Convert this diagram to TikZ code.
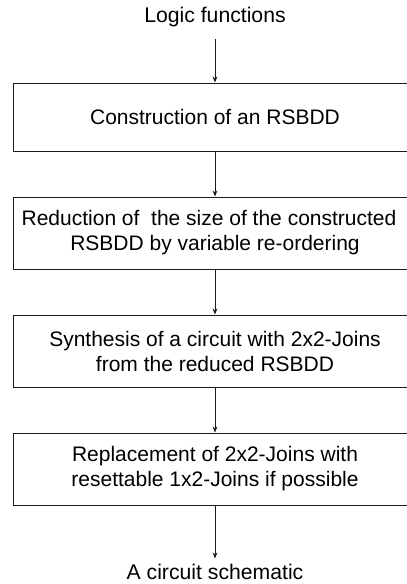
\documentclass[tikz,border=0pt]{standalone}
\usepackage{fontspec}
\setmainfont{Liberation Sans}
\usepackage{xcolor}
\definecolor{cLine}{HTML}{1A1A1A}
\usetikzlibrary{positioning,arrows.meta}
\tikzset{
  node-box/.style={draw=cLine,line width=0.5pt,minimum width=202pt,
    minimum height=36pt,inner sep=0pt,align=center,
    font=\fontsize{10.5pt}{12.5pt}\selectfont},
  node-io/.style={inner xsep=0pt,inner ysep=5.5pt,
    font=\fontsize{10.6pt}{12.5pt}\selectfont},
  arrow/.style={-{Stealth[length=3pt,width=2.4pt]},line width=0.5pt,draw=cLine},
}

\begin{document}
\begin{tikzpicture}[node distance=22.5pt]
  \useasboundingbox (0,0) rectangle (203.5pt,-292pt);
  \clip (0,0) rectangle (203.5pt,-292pt);
  \node[node-box,minimum height=34pt] at (107.5pt,-58.5pt) (rsbdd) {Construction of an RSBDD};
  \node[node-box,below=of rsbdd] (reorder) {Reduction of\ \ the size of the constructed\hspace*{6pt}\\RSBDD by variable re-ordering};
  \node[node-box,below=of reorder] (synth) {Synthesis of a circuit with 2x2-Joins\\from the reduced RSBDD};
  \node[node-box,below=of synth] (replace) {Replacement of 2x2-Joins with\\resettable 1x2-Joins if possible};
  \node[node-io,above=22pt of rsbdd] (input) {Logic functions};
  \node[node-io,below=26.5pt of replace,inner ysep=2.5pt] (output) {A circuit schematic};
  \draw[arrow] (input) -- (rsbdd);
  \draw[arrow] (rsbdd) -- (reorder);
  \draw[arrow] (reorder) -- (synth);
  \draw[arrow] (synth) -- (replace);
  \draw[arrow] (replace) -- (output);
\end{tikzpicture}
\end{document}
